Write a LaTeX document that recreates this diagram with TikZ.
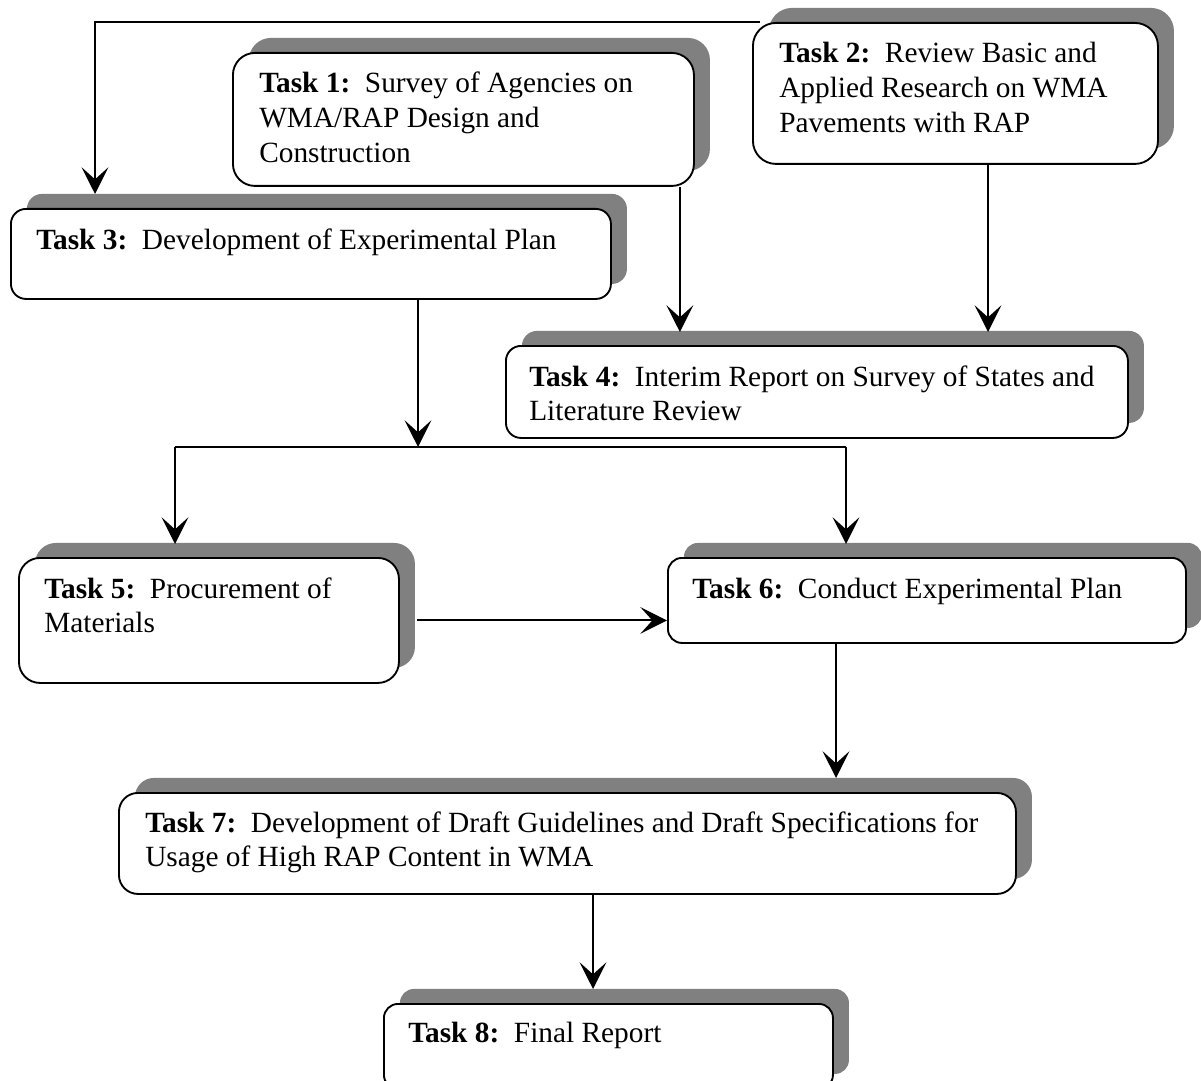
\documentclass[tikz,border=0pt]{standalone}
\usepackage{fontspec}
\setmainfont{Liberation Serif}
\usetikzlibrary{shadows,arrows.meta}
\definecolor{shadowgray}{RGB}{128,128,128}
\begin{document}
\begin{tikzpicture}[x=0.75pt,y=-0.75pt,
  box/.style={draw, line width=1.4pt, fill=white, anchor=north west, inner sep=0pt,
    drop shadow={shadow xshift=12pt, shadow yshift=11.25pt, fill=shadowgray, opacity=1}},
  lbl/.style={anchor=base west, inner sep=0pt, font=\fontsize{22}{26}\selectfont},
  arr/.style={line width=1.5pt, -{Stealth[length=20pt,width=20pt,inset=9pt]}},
  ln/.style={line width=1.5pt}]
\useasboundingbox (0,0) rectangle (1201,1080);

% boxes
\node[box, minimum width=345.75pt, minimum height=99.75pt, rounded corners=16.5pt] (task1) at (232,52) {};
\node[box, minimum width=303.75pt, minimum height=105.75pt, rounded corners=17.25pt] (task2) at (752,22) {};
\node[box, minimum width=450pt, minimum height=67.5pt, rounded corners=11.25pt] (task3) at (10,208) {};
\node[box, minimum width=466.5pt, minimum height=69pt, rounded corners=11.25pt] (task4) at (505,345) {};
\node[box, minimum width=285pt, minimum height=93.75pt, rounded corners=15.75pt] (task5) at (18,557) {};
\node[box, minimum width=388.5pt, minimum height=63.75pt, rounded corners=10.5pt] (task6) at (667,557) {};
\node[box, minimum width=672.75pt, minimum height=75.75pt, rounded corners=14.25pt] (task7) at (118,792) {};
\node[box, minimum width=336.75pt, minimum height=63.75pt, rounded corners=10.5pt] (task8) at (383,1003) {};

% labels
\node[lbl] (l1) at ([xshift=20.25pt, yshift=-30.75pt]task1.north west)
  {\begin{tabular}[t]{@{}l@{}}\textbf{Task 1:}\ \ Survey of Agencies on\\ WMA/RAP Design and\\ Construction\end{tabular}};
\node[lbl] (l2) at ([xshift=20.25pt, yshift=-30.75pt]task2.north west)
  {\begin{tabular}[t]{@{}l@{}}\textbf{Task 2:}\ \ Review Basic and\\ Applied Research on WMA\\ Pavements with RAP\end{tabular}};
\node[lbl] (l3) at ([xshift=19.5pt, yshift=-31.5pt]task3.north west)
  {\begin{tabular}[t]{@{}l@{}}\textbf{Task 3:}\ \ Development of Experimental Plan\end{tabular}};
\node[lbl] (l4) at ([xshift=18pt, yshift=-30.75pt]task4.north west)
  {\begin{tabular}[t]{@{}l@{}}\textbf{Task 4:}\ \ Interim Report on Survey of States and\\ Literature Review\end{tabular}};
\node[lbl] (l5) at ([xshift=19.5pt, yshift=-30.75pt]task5.north west)
  {\begin{tabular}[t]{@{}l@{}}\textbf{Task 5:}\ \ Procurement of\\ Materials\end{tabular}};
\node[lbl] (l6) at ([xshift=18.75pt, yshift=-30.75pt]task6.north west)
  {\begin{tabular}[t]{@{}l@{}}\textbf{Task 6:}\ \ Conduct Experimental Plan\end{tabular}};
\node[lbl] (l7) at ([xshift=20.25pt, yshift=-30pt]task7.north west)
  {\begin{tabular}[t]{@{}l@{}}\textbf{Task 7:}\ \ Development of Draft Guidelines and Draft Specifications for\\ Usage of High RAP Content in WMA\end{tabular}};
\node[lbl] (l8) at ([xshift=18.75pt, yshift=-29.25pt]task8.north west)
  {\begin{tabular}[t]{@{}l@{}}\textbf{Task 8:}\ \ Final Report\end{tabular}};

% helper coordinates
\coordinate (t4top) at ([yshift=9.75pt]task4.north);
\coordinate (t5top) at ([yshift=9.75pt]task5.north);
\coordinate (t6top) at ([yshift=9.75pt]task6.north);
\coordinate (t7top) at ([yshift=10.5pt]task7.north);
\coordinate (t8top) at ([yshift=10.5pt]task8.north);
\coordinate (a1) at ([xshift=-11.25pt]task1.south east);
\coordinate (a2) at ([xshift=177pt]task2.south west);
\coordinate (a3) at ([xshift=306pt]task3.south west);
\coordinate (a6) at ([xshift=126.75pt]task6.south west);
\coordinate (a7) at ([xshift=157.5pt]task8.north west);
\coordinate (j) at (418,447);
\coordinate (jl) at (175,447);
\coordinate (jr) at (846,447);

% connectors
\draw[arr] ([xshift=6pt]task2.north west) -| ([xshift=63.75pt, yshift=10.5pt]task3.north west);
\draw[arr] (a1) -- (a1 |- t4top);
\draw[arr] (a2) -- (a2 |- t4top);
\draw[arr] (a3) -- (j);
\draw[ln] (jl) -- (jr);
\draw[arr] (jl) -- (jl |- t5top);
\draw[arr] (jr) -- (jr |- t6top);
\draw[arr] ([xshift=12.75pt]task5.east) -- (task5.east -| task6.west);
\draw[arr] (a6) -- (a6 |- t7top);
\draw[arr] (a7 |- task7.south) -- (a7 |- t8top);
\end{tikzpicture}
\end{document}
